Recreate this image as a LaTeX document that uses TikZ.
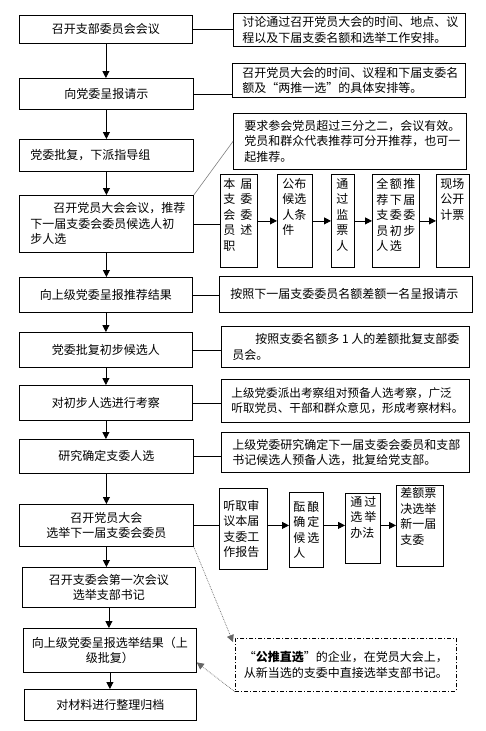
\documentclass[tikz,border=0pt]{standalone}
\usepackage{fontspec}
\setmainfont{Noto Sans CJK SC}
\usetikzlibrary{arrows.meta,calc}
\newcommand{\bxc}[3]{\parbox[c][#2pt][c]{#1pt}{\centering #3}}
\newcommand{\bxl}[4]{\parbox[c][#2pt][c]{#1pt}{\leftskip=#3pt\relax #4}}
\newcommand{\bxt}[5]{\parbox[c][#2pt][t]{#1pt}{\leftskip=#3pt\relax\vspace*{#4pt}#5}}
\newcommand{\hgp}[1]{\hspace{#1pt}}
\begin{document}
\begin{tikzpicture}[x=1pt,y=-1pt,
  font=\fontsize{12}{15.5}\selectfont,
  box/.style={draw, line width=0.8pt, inner sep=0pt, anchor=north west},
  dbox/.style={draw, line width=0.8pt, inner sep=0pt, anchor=north west, dash pattern=on 4pt off 2pt on 1pt off 2pt},
  ln/.style={line width=0.8pt},
  arr/.style={line width=0.8pt, -{Triangle[length=7pt,width=7pt]}},
  gln/.style={line width=0.6pt, gray},
  garr/.style={line width=0.7pt, gray!80!black, densely dotted, -{Triangle[length=7pt,width=7pt]}}]
\fill[white] (0,0) rectangle (485,731);
\useasboundingbox (0,0) rectangle (485,731);
% main column
\node[box] (b1) at (19,15) {\bxc{173}{28}{召开支部委员会会议}};
\node[box] (b2) at (19,78) {\bxc{174}{31}{向党委呈报请示}};
\node[box] (b3) at (19,139) {\bxl{174}{32}{11}{党委批复，下派指导组}};
\node[box] (b4) at (19,195) {\bxl{174}{57}{11}{\hspace*{23pt}召开党员大会会议，推荐\\下一届支委会委员候选人初\\步人选}};
\node[box] (b5) at (19,277) {\bxc{173}{35}{向上级党委呈报推荐结果}};
\node[box] (b6) at (19,332) {\bxc{173}{35}{党委批复初步候选人}};
\node[box] (b7) at (19,385) {\bxc{173}{35}{对初步人选进行考察}};
\node[box] (b8) at (19,439) {\bxc{174}{34}{研究确定支委人选}};
\node[box] (b9) at (19,504) {\bxc{174}{42}{召开党员大会\\选举下一届支委会委员}};
\node[box] (b10) at (22,567) {\bxc{173}{40}{召开支委会第一次会议\\选举支部书记}};
\node[box] (b11) at (23,628) {\bxc{173}{44}{向上级党委呈报选举结果（上\\级批复）}};
\node[box] (b12) at (24,689) {\bxc{172}{31}{对材料进行整理归档}};
% right notes
\node[box] (r1) at (233,13) {\bxl{232}{33}{9}{讨论通过召开党员大会的时间、地点、议\\程以及下届支委名额和选举工作安排。}};
\node[box] (r2) at (232,63) {\bxl{233}{34}{10}{召开党员大会的时间、议程和下届支委名\\额及“两推一选”的具体安排等。}};
\node[box] (r3) at (233,113) {\bxl{233}{56}{11}{要求参会党员超过三分之二，会议有效。\\党员和群众代表推荐可分开推荐，也可一\\起推荐。}};
\node[box] (r5) at (219,276) {\bxl{253}{36}{11}{按照下一届支委委员名额差额一名呈报请示}};
\node[box] (r6) at (221,326) {\bxl{248}{41}{11}{\hspace*{23pt}按照支委名额多 1 人的差额批复支部委\\员会。}};
\node[box] (r7) at (221,379) {\bxl{248}{43}{10}{\fontsize{11.6}{15.5}\selectfont 上级党委派出考察组对预备人选考察，广泛\\听取党员、干部和群众意见，形成考察材料。}};
\node[box] (r8) at (221,432) {\bxl{248}{40}{11}{上级党委研究确定下一届支委会委员和支部\\书记候选人预备人选，批复给党支部。}};
% small boxes row 1
\node[box] (s1) at (220,174) {\bxt{37}{93}{3}{4}{本\hgp{5}届\\支\hgp{5}委\\会\hgp{5}委\\员\hgp{5}述\\职}};
\node[box] (s2) at (277,174) {\bxt{35}{93}{5}{4}{公布\\候选\\人条\\件}};
\node[box] (s3) at (331,174) {\bxt{23}{93}{5}{4}{通\\过\\监\\票\\人}};
\node[box] (s4) at (372,174) {\bxt{47}{93}{4}{4}{全\hgp{1.5}额\hgp{1.5}推\\荐\hgp{1.5}下\hgp{1.5}届\\支\hgp{1.5}委\hgp{1.5}委\\员\hgp{1.5}初\hgp{1.5}步\\人\hgp{1.5}选}};
\node[box] (s5) at (436,174) {\bxt{33}{93}{4}{4}{现场\\公开\\计票}};
% small boxes row 2
\node[box] (t1) at (219,488) {\bxl{48}{81}{4}{听取审\\议本届\\支委工\\作报告}};
\node[box] (t2) at (289,492) {\bxl{34}{75}{4}{酝\hgp{2}酿\\确\hgp{2}定\\候\hgp{2}选\\人}};
\node[box] (t3) at (345,493) {\bxt{35}{70}{5}{3}{通\hgp{2}过\\选\hgp{2}举\\办法}};
\node[box] (t4) at (396,485) {\bxt{47}{81}{4}{2}{差额票\\决选举\\新一届\\支委}};
% dash box
\node[dbox] (d) at (235,638) {\bxc{221}{53}{“{\bfseries 公推直选}”的企业，在党员大会上，\\从新当选的支委中直接选举支部书记。}};
% main arrows
\foreach \a/\b in {b1/b2,b2/b3,b3/b4,b4/b5,b5/b6,b6/b7,b7/b8,b8/b9,b9/b10,b10/b11,b11/b12}
  \draw[arr] (\a.south) -- (\a.south |- \b.north);
% horizontal connectors
\foreach \a/\b in {b1/r1,b2/r2,b4/s1,b5/r5,b6/r6,b7/r7,b8/r8,b9/t1}
  \draw[ln] (\a.east) -- (\a.east -| \b.west);
\foreach \a/\b in {s1/s2,s2/s3,s3/s4,s4/s5}
  \draw[arr] (\a.east) -- (\a.east -| \b.west);
\foreach \a/\b in {t1/t2,t2/t3,t3/t4}
  \draw[arr] (\a.east |- b9.east) -- (\b.west |- b9.east);
% grey links
\draw[gln] (b4.north east) -- (r3.west);
\draw[garr] (b9.south east) -- ([shift={(-2pt,-4pt)}]d.north west);
\draw[garr] (d.south west) -- ([yshift=-12pt]b11.east);
\end{tikzpicture}
\end{document}
